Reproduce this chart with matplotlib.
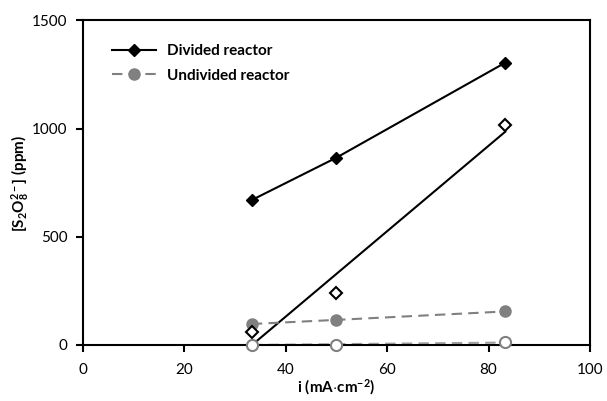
import numpy as np
import matplotlib
matplotlib.use("Agg")
import matplotlib.pyplot as plt
from matplotlib.lines import Line2D

plt.rcParams['font.family'] = ['Lato', 'DejaVu Sans']
plt.rcParams['mathtext.fontset'] = 'custom'
plt.rcParams['mathtext.rm'] = 'Lato'
plt.rcParams['mathtext.bf'] = 'Lato:bold'
plt.rcParams['mathtext.it'] = 'Lato:italic'

current = [33.3, 50.0, 83.3]
divided_filled = [670, 866, 1305]
divided_open = [59, 239, 1016]
undivided_filled = [97, 116, 155]
undivided_open = [0, 0, 12]

fig = plt.figure(figsize=(6.07, 4.01), dpi=100)
ax = fig.add_axes([0.1367, 0.1397, 0.972 - 0.1367, 0.949 - 0.1397])

ax.plot(current, divided_filled, color='black', lw=1.5, marker='D', ms=6.5,
        mfc='black', mec='black', zorder=4)
ax.plot(current, undivided_filled, color='#808080', lw=1.5, ls=(0, (5, 3)),
        marker='o', ms=8, mfc='#808080', mec='#808080', zorder=3)

# linear trend lines for open symbols
xs = np.array(current)
p1 = np.polyfit(xs, divided_open, 1)
ax.plot(xs[[0, -1]], np.polyval(p1, xs[[0, -1]]), color='black', lw=1.5, zorder=2)
p2 = np.polyfit(xs, undivided_open, 1)
ax.plot(xs[[0, -1]], np.clip(np.polyval(p2, xs[[0, -1]]), 0, None), color='#a0a0a0',
        lw=1.5, ls=(0, (5, 3)), zorder=2)

ax.plot(current, divided_open, ls='none', marker='D', ms=6.5, mfc='white',
        mec='black', mew=1.5, zorder=5, clip_on=False)
ax.plot(current, undivided_open, ls='none', marker='o', ms=8, mfc='white',
        mec='#808080', mew=1.5, zorder=5, clip_on=False)

ax.set_xlim(0, 100)
ax.set_ylim(0, 1500)
ax.set_xticks([0, 20, 40, 60, 80, 100])
ax.set_yticks([0, 500, 1000, 1500])
for s in ax.spines.values():
    s.set_linewidth(1.5)
    s.set_color('black')
ax.tick_params(direction='out', length=5, width=1.5, labelsize=11, colors='black')
ax.tick_params(axis='x', pad=8)
ax.tick_params(axis='y', pad=6)
ax.set_xlabel(r'$\mathbf{i\ (mA{\cdot}cm^{-2})}$', fontsize=11, labelpad=0)
fig.text(20 / 607, 1 - 183 / 401, r'$\mathbf{[S_{2}O_{8}^{2-}]\ (ppm)}$', fontsize=11,
         rotation=90, ha='center', va='center')

handles = [
    Line2D([], [], color='black', lw=1.5, marker='D', ms=6.5, mfc='black'),
    Line2D([], [], color='#808080', lw=1.5, ls=(0, (5, 3)), marker='o', ms=8,
           mfc='#808080', mec='#808080'),
]
ax.legend(handles, ['Divided reactor', 'Undivided reactor'], loc='upper left',
          bbox_to_anchor=(0.03, 0.97), frameon=False, handlelength=2.9,
          handletextpad=0.7, prop={'weight': 'bold', 'size': 11}, labelspacing=0.7)

fig.savefig('out.png', dpi=100)
